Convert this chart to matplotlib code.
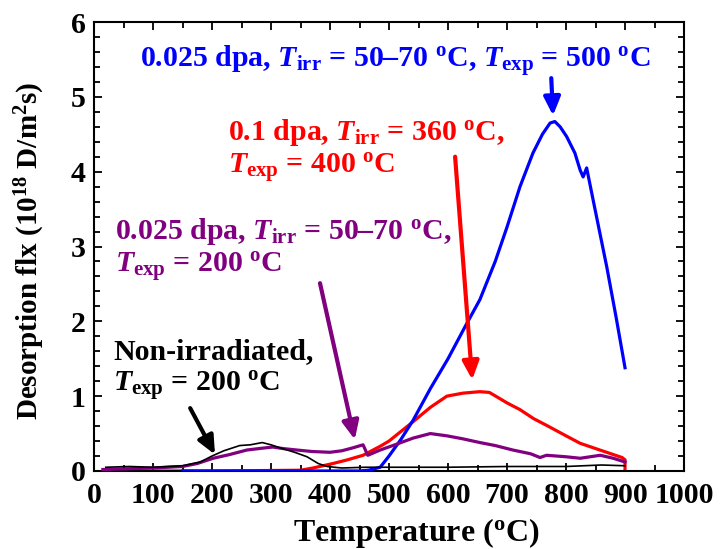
import matplotlib
matplotlib.use('Agg')
import matplotlib.pyplot as plt
from matplotlib.ticker import MultipleLocator

# Curvas (temperatura em oC, fluxo em 10^18 D/m^2s)
t_black = [20, 60, 100, 150, 180, 200, 220, 247, 265, 285, 300, 315, 340, 361, 380, 395,
           420, 460, 500, 600, 700, 800, 860, 900]
v_black = [0.05, 0.06, 0.05, 0.07, 0.12, 0.20, 0.27, 0.34, 0.35, 0.38, 0.35, 0.31, 0.25, 0.19,
           0.10, 0.06, 0.04, 0.05, 0.05, 0.05, 0.06, 0.06, 0.08, 0.07]

t_purple = [15, 60, 100, 150, 175, 202, 230, 259, 280, 303, 320, 344, 370, 400, 420, 439, 456,
            464, 485, 510, 541, 570, 598, 625, 654, 680, 710, 740, 756, 767, 800, 824, 858,
            880, 900]
v_purple = [0.02, 0.03, 0.04, 0.06, 0.10, 0.17, 0.22, 0.28, 0.30, 0.32, 0.30, 0.28, 0.26, 0.25,
            0.27, 0.31, 0.35, 0.21, 0.28, 0.35, 0.44, 0.50, 0.47, 0.43, 0.38, 0.34, 0.28, 0.23,
            0.18, 0.21, 0.19, 0.17, 0.21, 0.17, 0.12]

t_red = [20, 200, 350, 371, 405, 430, 456, 485, 500, 541, 570, 598, 625, 654, 670, 683, 700,
         722, 745, 767, 800, 824, 850, 880, 895, 900, 900]
v_red = [0.0, 0.0, 0.01, 0.04, 0.10, 0.15, 0.21, 0.33, 0.40, 0.66, 0.85, 1.00, 1.04, 1.06, 1.05,
         0.99, 0.91, 0.82, 0.70, 0.61, 0.47, 0.37, 0.30, 0.22, 0.18, 0.15, 0.0]

t_blue = [150, 300, 450, 465, 475, 485, 500, 520, 541, 570, 600, 629, 654, 680, 700, 722, 744,
          760, 773, 781, 790, 801, 815, 824, 829, 835, 846, 869, 885, 900]
v_blue = [0.0, 0.0, 0.0, 0.01, 0.03, 0.05, 0.20, 0.42, 0.68, 1.10, 1.50, 1.93, 2.29, 2.80, 3.26,
          3.80, 4.25, 4.50, 4.65, 4.67, 4.60, 4.47, 4.25, 4.02, 3.93, 4.05, 3.62, 2.73, 2.05, 1.38]

plt.rcParams['font.family'] = 'Liberation Serif'
plt.rcParams['font.weight'] = 'bold'
plt.rcParams['mathtext.fontset'] = 'custom'
plt.rcParams['mathtext.rm'] = 'Liberation Serif:bold'
plt.rcParams['mathtext.it'] = 'Liberation Serif:bold:italic'
plt.rcParams['mathtext.bf'] = 'Liberation Serif:bold'

azul = '#0000ff'
vermelho = '#ff0000'
roxo = '#800080'

fig = plt.figure(figsize=(7.21, 5.49), dpi=100)
ax = fig.add_axes([0.1304, 0.1421, 0.8183, 0.8178])

ax.plot(t_red, v_red, color=vermelho, lw=2.3, zorder=2)
ax.plot(t_blue, v_blue, color=azul, lw=2.3, zorder=3)
ax.plot(t_purple, v_purple, color=roxo, lw=2.3, zorder=4)
ax.plot(t_black, v_black, color='black', lw=1.2, zorder=5)

ax.set_xlim(0, 1000)
ax.set_ylim(0, 6)
ax.xaxis.set_major_locator(MultipleLocator(100))
ax.xaxis.set_minor_locator(MultipleLocator(50))
ax.yaxis.set_major_locator(MultipleLocator(1))
ax.yaxis.set_minor_locator(MultipleLocator(0.2))
ax.tick_params(which='both', direction='in', top=True, right=True, width=1.3)
ax.tick_params(which='major', length=6, labelsize=21.5)
ax.tick_params(axis='x', which='major', pad=8)
ax.tick_params(axis='y', which='major', pad=6)
ax.tick_params(which='minor', length=4)
for s in ax.spines.values():
    s.set_linewidth(1.5)

ax.set_xlabel(r'Temperature ($^{\mathrm{o}}$C)', fontsize=23, fontweight='bold')
ax.xaxis.set_label_coords(0.546, -0.100)
ax.set_ylabel(r'Desorption flx (10$^{\mathrm{18}}$ D/m$^{\mathrm{2}}$s)', fontsize=21,
              fontweight='bold')
ax.yaxis.set_label_coords(-0.080, 0.49)

fs = 21.5
ax.text(510, 5.47, r'0.025 dpa, $T_{\mathrm{irr}}$ = 50–70 $^{\mathrm{o}}$C, $T_{\mathrm{exp}}$ = 500 $^{\mathrm{o}}$C',
        color=azul, fontsize=fs, ha='center', va='center')
ax.text(227, 4.52, r'0.1 dpa, $T_{\mathrm{irr}}$ = 360 $^{\mathrm{o}}$C,',
        color=vermelho, fontsize=fs, ha='left', va='center')
ax.text(227, 4.05, r'$T_{\mathrm{exp}}$ = 400 $^{\mathrm{o}}$C',
        color=vermelho, fontsize=fs, ha='left', va='center')
ax.text(36, 3.2, r'0.025 dpa, $T_{\mathrm{irr}}$ = 50–70 $^{\mathrm{o}}$C,',
        color=roxo, fontsize=fs, ha='left', va='center')
ax.text(36, 2.73, r'$T_{\mathrm{exp}}$ = 200 $^{\mathrm{o}}$C',
        color=roxo, fontsize=fs, ha='left', va='center')
ax.text(32, 1.6, 'Non-irradiated,', color='black', fontsize=fs, ha='left', va='center')
ax.text(32, 1.13, r'$T_{\mathrm{exp}}$ = 200 $^{\mathrm{o}}$C',
        color='black', fontsize=fs, ha='left', va='center')

# Setas
setas = [
    ((775, 5.25), (778, 4.75), azul),
    ((612, 4.2), (641, 1.22), vermelho),
    ((383, 2.51), (442, 0.42), roxo),
    ((163, 0.84), (205, 0.22), 'black'),
]
for (x0, y0), (x1, y1), cor in setas:
    ax.annotate('', xy=(x1, y1), xytext=(x0, y0),
                arrowprops=dict(arrowstyle='-|>,head_length=1.1,head_width=0.5',
                                color=cor, lw=3, shrinkA=0, shrinkB=0), zorder=6)

plt.savefig('out.png', dpi=100)
